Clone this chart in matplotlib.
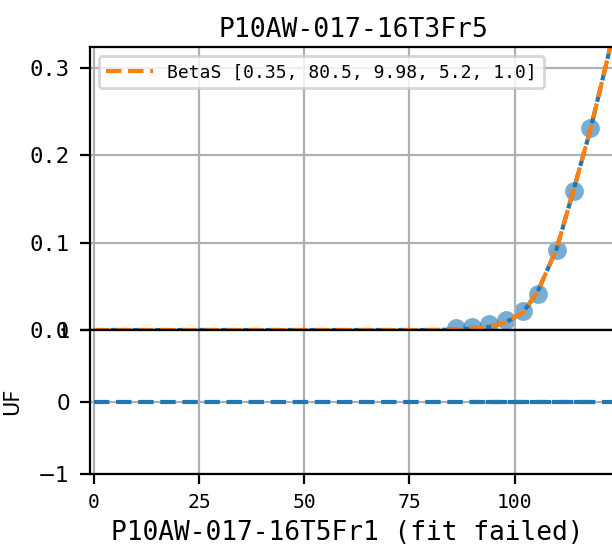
import numpy as np
import matplotlib
matplotlib.use('Agg')
import matplotlib.pyplot as plt

plt.rcParams['font.family'] = ['DejaVu Sans Mono', 'DejaVu Sans']

# data
top_title = "P10AW-017-16T3Fr5"
bottom_label = "P10AW-017-16T5Fr1 (fit failed)"
fit_label = "BetaS [0.35, 80.5, 9.98, 5.2, 1.0]"
x_ticks = [0, 25, 50, 75, 100]

pts_x = [86, 90, 94, 98, 102, 105.5, 110, 114, 118]
pts_y = [0.002, 0.004, 0.007, 0.011, 0.022, 0.041, 0.092, 0.159, 0.231]

fit_x = [0, 80, 86, 90, 94, 98, 102, 105.5, 110, 114, 118, 122, 124.5]
fit_y = [0, 0, 0.0005, 0.0015, 0.0035, 0.009, 0.02, 0.044, 0.093, 0.16, 0.229, 0.309, 0.36]

fail_x = [0, 124.5]
fail_y = [0, 0]
fail_pts_x = [90, 118.7]
fail_pts_y = [0, 0]

W, H = 612, 545
fig = plt.figure(figsize=(W / 200, H / 200), dpi=200)

x_left, x_right = 89.5, 617.7
ax1 = fig.add_axes([x_left / W, (H - 330) / H, (x_right - x_left) / W, (330 - 47) / H])
ax2 = fig.add_axes([x_left / W, (H - 473.5) / H, (x_right - x_left) / W, (473.5 - 330) / H])

# top panel
ax1.plot(fit_x, fit_y, color='C0', linestyle=(1.2, (3.7, 1.6)))
ax1.scatter(pts_x, pts_y, color='C0', alpha=0.6, s=46, linewidths=0)
ax1.plot(fit_x, fit_y, color='C1', linestyle='--', label=fit_label)
ax1.set_xlim(-1, 124.5)
ax1.set_xticks(x_ticks)
ax1.set_ylim(0, 0.324)
ax1.set_yticks([0.0, 0.1, 0.2, 0.3])
ax1.tick_params(axis='y', labelsize=8)
ax1.tick_params(axis='x', bottom=False, labelbottom=False)
ax1.grid(True)
ax1.set_title(top_title, fontsize=9.5, pad=3.6)
ax1.legend(loc='upper left', fontsize=6.5, handlelength=2.6)

# bottom panel
ax2.plot(fail_x, fail_y, color='C0', linestyle='--')
ax2.plot(fail_pts_x, fail_pts_y, color='C0', linestyle=(2.0, (3.7, 1.6)))
ax2.set_xlim(-1, 124.5)
ax2.set_xticks(x_ticks)
ax2.set_ylim(-1, 1)
ax2.set_yticks([-1, 0, 1])
ax2.tick_params(axis='x', labelsize=7.1)
ax2.tick_params(axis='y', labelsize=7.8)
for t in ax2.get_yticklabels():
    t.set_family('DejaVu Sans')
ax2.grid(True)
ax2.set_ylabel('UF', family='DejaVu Sans', fontsize=7.5)
ax2.yaxis.set_label_coords((22 - x_left) / (x_right - x_left), 0.5)
ax2.set_xlabel(bottom_label, fontsize=9.4)
ax2.xaxis.set_label_coords((347.5 - x_left) / (x_right - x_left), -0.325)

fig.savefig('out.png', dpi=200)
